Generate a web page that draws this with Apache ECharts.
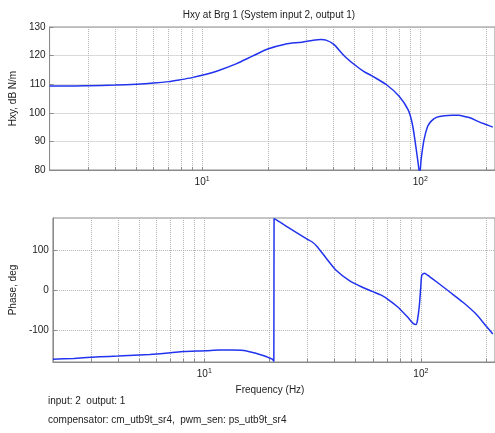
<!DOCTYPE html>
<html>
<head>
<meta charset="utf-8">
<title>Hxy at Brg 1</title>
<script src="https://cdn.jsdelivr.net/npm/echarts@6/dist/echarts.min.js"></script>
<style>
	html, body { margin: 0; padding: 0; background: #fff; }
	#chart { width: 495px; height: 433px; }
</style>
</head>
<body>
<div id="chart"></div>
<script>
	// magnitude, dB N/m
	var magFreq = [2, 2.5, 3, 4, 5, 6, 7, 8, 9, 10, 12, 14.4, 17, 20, 24, 28.7, 32, 35, 37, 40, 45, 50, 55, 60, 70, 80, 88, 92, 95.5, 97.5, 98.5, 99.5, 101, 104, 108, 112, 118.5, 129, 140, 150, 161, 170, 185, 200, 215];
	var magDb = [109.4, 109.4, 109.5, 109.7, 110.0, 110.4, 110.9, 111.6, 112.3, 113.1, 114.9, 117.2, 119.8, 122.3, 124.0, 124.7, 125.3, 125.6, 125.4, 124.0, 119.8, 116.8, 114.5, 112.9, 109.8, 105.8, 101, 96, 88, 83, 80.5, 79, 84, 90.5, 95.2, 97, 98.4, 99.0, 99.1, 99.1, 98.6, 98.2, 96.9, 95.9, 95.0];

	// phase, deg
	var phaseFreq = [2, 2.5, 3.3, 4, 5.6, 7, 8, 10.2, 11.7, 13.4, 15.2, 17.3, 19, 20, 20.6, 20.95, 21.0, 21.7, 25, 29.7, 31.5, 33, 36.5, 40.5, 46.6, 53.4, 60, 65.7, 72, 78, 86.6, 92.4, 95, 96.5, 98.5, 100, 101, 104, 110, 118.5, 136, 156, 179, 200, 215];
	var phaseDeg = [-173, -171, -167, -165, -161, -157, -154, -152, -150, -150, -151, -158, -165, -170, -173, -178, 178, 174, 153, 128, 120, 110, 80, 50, 24, 7.5, -4, -13, -27, -42, -67, -84, -86, -75, -37, 10, 37, 42, 33, 20, -5, -30, -59, -90, -110];

	// ticks
	var gridFreqs = [2, 3, 4, 5, 6, 7, 8, 9, 10, 20, 30, 40, 50, 60, 70, 80, 90, 100, 200];
	var labelFreqs = [10, 100];
	var magTicks = [80, 90, 100, 110, 120, 130];
	var phaseTicks = [-100, 0, 100];

	var textColor = '#222';
	var axisColor = '#8a8a8a';
	var lineColor = '#2233ee';
	var fontName = 'Liberation Sans';

	function pairs(xs, ys) {
		var out = [];
		for (var i = 0; i < xs.length; i++) out.push([xs[i], ys[i]]);
		return out;
	}

	function freqAxis(gridIndex) {
		return {
			type: 'log',
			logBase: 10,
			gridIndex: gridIndex,
			min: 2,
			max: 220,
			axisLine: { onZero: false, lineStyle: { color: axisColor } },
			axisTick: {
				inside: true,
				length: 3,
				customValues: gridFreqs,
				lineStyle: { color: axisColor }
			},
			axisLabel: {
				customValues: labelFreqs,
				margin: 6,
				color: textColor,
				formatter: function (v) {
					return '{b|10}{s|' + Math.round(Math.log10(v)) + '}';
				},
				rich: {
					b: { fontSize: 10, fontFamily: fontName, color: textColor },
					s: { fontSize: 7, fontFamily: fontName, color: textColor, padding: [0, 0, 6, 0] }
				}
			},
			splitLine: { show: true, lineStyle: { type: 'dotted', color: '#b5b5b5' } }
		};
	}

	function valueAxis(gridIndex, name, min, max, ticks, gap) {
		return {
			type: 'value',
			gridIndex: gridIndex,
			min: min,
			max: max,
			name: name,
			nameLocation: 'middle',
			nameGap: gap,
			nameTextStyle: { fontSize: 10, fontFamily: fontName, color: textColor },
			axisLine: { show: true, onZero: false, lineStyle: { color: axisColor } },
			axisTick: { show: true, inside: true, length: 4, customValues: ticks, lineStyle: { color: axisColor } },
			axisLabel: { customValues: ticks, fontSize: 10, fontFamily: fontName, color: textColor, margin: 4 },
			splitLine: { show: true, lineStyle: { type: 'dotted', color: '#b5b5b5' } }
		};
	}

	var myChart = echarts.init(document.getElementById('chart'), null, { renderer: 'canvas' });

	myChart.setOption({
		animation: false,
		backgroundColor: '#fff',
		grid: [
			{ left: 48, top: 27, height: 143, right: -6, show: true, borderColor: axisColor, borderWidth: 1 },
			{ left: 48, top: 218, height: 144, right: -6, show: true, borderColor: axisColor, borderWidth: 1 }
		],
		xAxis: [freqAxis(0), freqAxis(1)],
		yAxis: [
			valueAxis(0, 'Hxy, dB N/m', 80, 130, magTicks, 30),
			valueAxis(1, 'Phase, deg', -180, 180, phaseTicks, 33)
		],
		graphic: [
			{
				type: 'text', x: 269, y: 15,
				style: { text: 'Hxy at Brg 1 (System input 2, output 1)', textAlign: 'center', textVerticalAlign: 'middle', font: '10px "Liberation Sans"', fill: textColor }
			},
			{
				type: 'text', x: 270, y: 390,
				style: { text: 'Frequency (Hz)', textAlign: 'center', textVerticalAlign: 'middle', font: '10px "Liberation Sans"', fill: textColor }
			},
			{
				type: 'text', x: 48, y: 401,
				style: { text: 'input: 2  output: 1', textAlign: 'left', textVerticalAlign: 'middle', font: '10px "Liberation Sans"', fill: textColor }
			},
			{
				type: 'text', x: 48, y: 420,
				style: { text: 'compensator: cm_utb9t_sr4,  pwm_sen: ps_utb9t_sr4', textAlign: 'left', textVerticalAlign: 'middle', font: '10px "Liberation Sans"', fill: textColor }
			}
		],
		series: [
			{
				type: 'line',
				xAxisIndex: 0,
				yAxisIndex: 0,
				data: pairs(magFreq, magDb),
				showSymbol: false,
				smooth: 0.3,
				clip: true,
				lineStyle: { color: lineColor, width: 1.5 }
			},
			{
				type: 'line',
				xAxisIndex: 1,
				yAxisIndex: 1,
				data: pairs(phaseFreq, phaseDeg),
				showSymbol: false,
				smooth: 0.2,
				clip: true,
				lineStyle: { color: lineColor, width: 1.5 }
			}
		]
	});
</script>
</body>
</html>
